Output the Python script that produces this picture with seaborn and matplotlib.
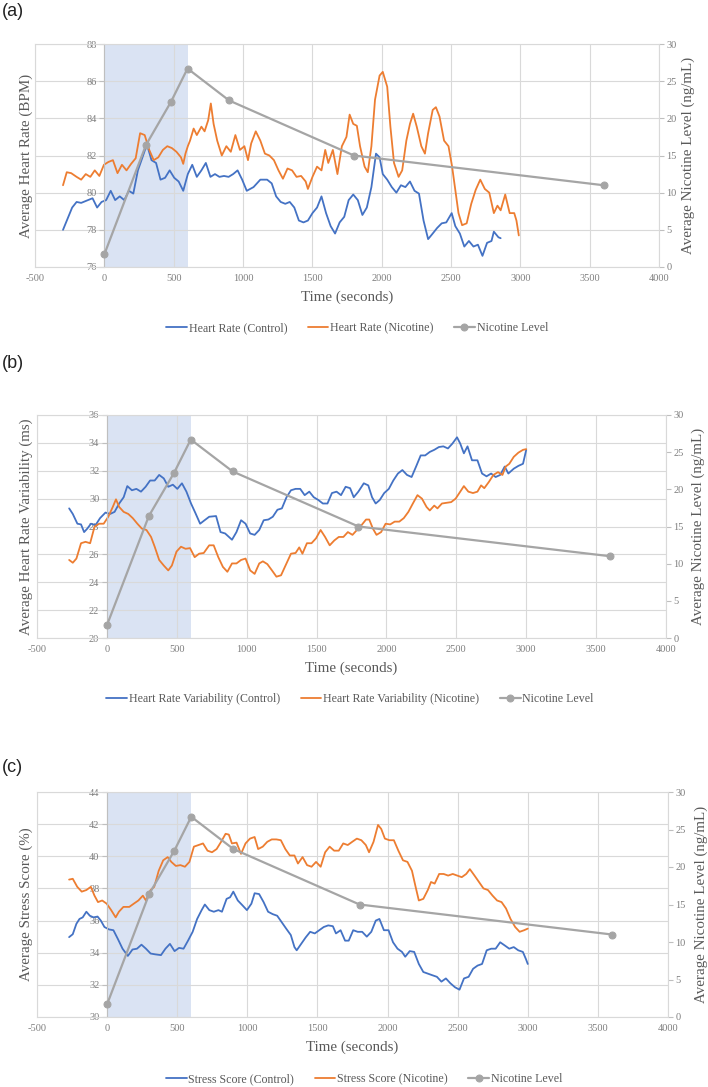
import matplotlib
matplotlib.use('Agg')
from matplotlib import pyplot as plt
import seaborn as sns

# ---- data ----
nic_t = [0, 300, 480, 600, 900, 1800, 3600]
nic_level = [1.7, 16.4, 22.2, 26.7, 22.4, 15.0, 11.0]

hr_ctrl_t = [-298, -265, -232, -200, -167, -118, -85, -52, -20, 13, 46, 78, 111, 144, 177, 209, 242, 275, 307, 340,
             373, 405, 438, 471, 504, 536, 569, 602, 634, 667, 700, 732, 765, 798, 830, 863, 896, 929, 961, 994,
             1027, 1076, 1125, 1174, 1207, 1239, 1272, 1305, 1337, 1370, 1403, 1436, 1468, 1501, 1534, 1566, 1599,
             1632, 1664, 1697, 1730, 1762, 1795, 1828, 1861, 1893, 1926, 1959, 1985, 2008, 2040, 2073, 2106, 2139,
             2171, 2204, 2237, 2269, 2302, 2335, 2368, 2400, 2433, 2466, 2505, 2531, 2564, 2596, 2629, 2662, 2694,
             2727, 2760, 2792, 2809, 2842, 2858]
hr_ctrl = [78.0, 78.6, 79.2, 79.5, 79.45, 79.6, 79.7, 79.2, 79.5, 79.6, 80.1, 79.6, 79.8, 79.6, 80.1, 79.95, 81.2,
           81.9, 82.6, 81.75, 81.6, 80.7, 80.8, 81.2, 80.8, 80.6, 80.1, 81.0, 81.5, 80.85, 81.2, 81.6, 80.85, 81.0,
           80.85, 80.9, 80.85, 81.0, 81.2, 80.7, 80.1, 80.3, 80.7, 80.7, 80.5, 79.8, 79.5, 79.4, 79.5, 79.2, 78.5,
           78.4, 78.5, 78.9, 79.2, 79.8, 78.9, 78.2, 77.8, 78.4, 78.7, 79.6, 79.9, 79.6, 78.8, 79.2, 80.3, 82.1,
           81.9, 81.0, 80.7, 80.3, 80.0, 80.4, 80.3, 80.6, 80.1, 79.95, 78.5, 77.5, 77.8, 78.1, 78.35, 78.4, 78.9,
           78.2, 77.8, 77.1, 77.4, 77.1, 77.2, 76.6, 77.3, 77.4, 77.9, 77.6, 77.55]

hr_nic_t = [-298, -271, -239, -200, -167, -134, -101, -69, -36, -3, 29, 62, 95, 127, 160, 193, 226, 258, 291, 324,
            356, 389, 422, 454, 487, 520, 553, 569, 585, 602, 618, 644, 667, 700, 723, 749, 768, 788, 814, 847,
            880, 912, 945, 978, 1010, 1036, 1059, 1092, 1125, 1158, 1190, 1223, 1256, 1288, 1321, 1354, 1386,
            1419, 1452, 1468, 1501, 1534, 1566, 1593, 1615, 1648, 1681, 1713, 1746, 1769, 1795, 1821, 1844, 1877,
            1900, 1926, 1952, 1985, 2008, 2040, 2063, 2089, 2122, 2148, 2178, 2204, 2227, 2253, 2286, 2312, 2335,
            2368, 2391, 2417, 2450, 2482, 2508, 2531, 2554, 2580, 2613, 2646, 2678, 2711, 2744, 2776, 2809, 2835,
            2858, 2891, 2923, 2956, 2972, 2989]
hr_nic = [80.4, 81.1, 81.05, 80.85, 80.7, 81.0, 80.85, 81.2, 80.9, 81.5, 81.65, 81.75, 81.05, 81.5, 81.2, 81.55,
          81.85, 83.2, 83.1, 82.3, 81.75, 81.9, 82.3, 82.5, 82.4, 82.2, 81.9, 81.55, 82.1, 82.5, 82.8, 83.45,
          83.1, 83.55, 83.3, 83.9, 84.8, 83.7, 82.8, 82.0, 82.5, 82.2, 83.1, 82.3, 82.5, 81.75, 82.65, 83.3,
          82.8, 82.1, 82.0, 81.75, 81.2, 80.75, 81.3, 81.2, 80.85, 80.9, 80.6, 80.2, 80.85, 81.4, 81.2, 82.3,
          81.6, 82.3, 81.0, 82.5, 83.0, 84.2, 83.7, 83.6, 82.5, 81.4, 81.1, 82.5, 85.0, 86.3, 86.5, 85.7, 83.55,
          81.6, 80.85, 81.2, 82.8, 83.7, 84.25, 83.55, 82.5, 82.1, 83.2, 84.45, 84.6, 84.1, 82.8, 82.5, 81.4,
          80.15, 78.9, 78.25, 78.35, 79.4, 80.15, 80.7, 80.2, 80.0, 78.9, 79.3, 79.05, 79.9, 78.9, 78.9, 78.5, 77.7]

hrv_ctrl_t = [-270, -244, -211, -185, -163, -140, -114, -81, -49, -10, 23, 55, 88, 120, 146, 179, 211, 244, 277,
              309, 342, 374, 407, 439, 472, 504, 537, 569, 602, 634, 667, 699, 732, 781, 813, 846, 895, 927, 960,
              992, 1025, 1057, 1090, 1122, 1155, 1187, 1220, 1252, 1285, 1317, 1350, 1383, 1415, 1448, 1480, 1513,
              1545, 1578, 1610, 1643, 1675, 1708, 1740, 1766, 1799, 1838, 1870, 1897, 1923, 1952, 1984, 2017, 2049,
              2082, 2114, 2147, 2180, 2212, 2245, 2277, 2310, 2342, 2375, 2407, 2440, 2472, 2505, 2528, 2554, 2580,
              2612, 2651, 2684, 2716, 2749, 2781, 2814, 2846, 2872, 2911, 2944, 2977, 3000]
hrv_ctrl = [29.3, 28.9, 28.2, 28.15, 27.6, 27.85, 28.2, 28.1, 28.6, 29.0, 28.9, 29.05, 29.65, 30.1, 30.9, 30.6,
            30.7, 30.5, 30.85, 31.3, 31.3, 31.7, 31.45, 30.85, 31.0, 30.7, 31.1, 30.5, 29.65, 28.95, 28.2, 28.45,
            28.7, 28.75, 27.6, 27.5, 27.05, 27.6, 28.45, 28.2, 27.5, 27.4, 27.75, 28.45, 28.5, 28.7, 29.2, 29.3,
            30.1, 30.6, 30.7, 30.7, 30.25, 30.5, 30.1, 29.9, 29.65, 29.65, 30.4, 30.5, 30.25, 30.85, 30.75, 30.1,
            30.5, 31.1, 30.95, 30.1, 29.65, 29.9, 30.4, 30.7, 31.3, 31.8, 32.05, 31.7, 31.55, 32.3, 33.1, 33.1,
            33.35, 33.5, 33.7, 33.75, 33.6, 33.95, 34.4, 33.95, 33.25, 33.75, 32.75, 32.75, 31.8, 31.6, 31.8,
            31.55, 31.7, 32.3, 31.8, 32.15, 32.35, 32.5, 33.5]

hrv_nic_t = [-270, -244, -218, -185, -153, -120, -88, -55, -23, 10, 42, 65, 88, 120, 153, 185, 218, 250, 283, 316,
             342, 374, 407, 439, 465, 498, 530, 563, 595, 628, 660, 693, 732, 764, 797, 830, 862, 895, 927, 960,
             992, 1025, 1057, 1090, 1116, 1148, 1181, 1213, 1246, 1278, 1317, 1350, 1376, 1399, 1431, 1464, 1496,
             1529, 1561, 1594, 1627, 1659, 1692, 1724, 1757, 1789, 1822, 1854, 1877, 1903, 1929, 1962, 1994, 2027,
             2059, 2092, 2124, 2157, 2189, 2222, 2254, 2287, 2310, 2342, 2365, 2397, 2430, 2463, 2495, 2528, 2554,
             2586, 2619, 2651, 2677, 2700, 2733, 2765, 2798, 2830, 2853, 2879, 2911, 2944, 2977, 3000]
hrv_nic = [25.6, 25.4, 25.7, 26.8, 26.9, 26.8, 28.0, 28.2, 28.2, 28.7, 29.4, 29.95, 29.4, 29.05, 28.9, 28.6, 28.2,
           27.85, 27.75, 27.25, 26.55, 25.6, 25.2, 24.85, 25.2, 26.2, 26.55, 26.4, 26.45, 25.8, 26.05, 26.1, 26.65,
           26.65, 25.8, 25.1, 24.75, 25.35, 25.35, 25.6, 25.7, 24.85, 24.6, 25.35, 25.5, 25.3, 24.85, 24.4, 24.5,
           25.2, 26.05, 26.1, 26.5, 26.05, 26.8, 26.8, 27.15, 27.75, 27.25, 26.65, 27.0, 27.25, 27.25, 27.6, 27.4,
           27.75, 28.1, 28.5, 28.5, 27.85, 27.4, 27.6, 28.2, 28.15, 28.35, 28.35, 28.6, 29.05, 29.65, 30.25, 30.0,
           29.4, 29.15, 29.5, 29.3, 29.65, 29.7, 29.75, 30.0, 30.5, 30.9, 30.5, 30.4, 30.5, 30.95, 30.75, 31.2,
           31.7, 31.9, 31.7, 32.3, 32.5, 33.0, 33.3, 33.5, 33.55]

ss_ctrl_t = [-271, -245, -219, -197, -174, -148, -123, -97, -68, -45, -19, 13, 45, 77, 110, 148, 181, 213, 245, 277,
             310, 342, 384, 416, 448, 481, 513, 545, 577, 610, 642, 674, 697, 729, 761, 794, 819, 852, 877, 900,
             932, 965, 997, 1029, 1052, 1084, 1116, 1148, 1181, 1213, 1245, 1277, 1310, 1336, 1352, 1384, 1416,
             1448, 1481, 1513, 1545, 1577, 1610, 1632, 1665, 1697, 1723, 1755, 1787, 1819, 1852, 1884, 1916, 1942,
             1974, 2007, 2039, 2071, 2103, 2126, 2158, 2190, 2223, 2255, 2287, 2319, 2352, 2384, 2416, 2448, 2481,
             2513, 2545, 2578, 2610, 2642, 2674, 2707, 2739, 2771, 2803, 2836, 2868, 2900, 2932, 2965, 2987, 3000]
ss_ctrl = [34.97, 35.15, 35.8, 36.1, 36.2, 36.55, 36.3, 36.2, 36.25, 36.0, 35.6, 35.45, 35.4, 34.85, 34.25, 33.8,
           34.2, 34.25, 34.5, 34.25, 33.95, 33.9, 33.85, 34.25, 34.55, 34.1, 34.3, 34.25, 34.75, 35.3, 36.1, 36.65,
           37.0, 36.65, 36.55, 36.65, 36.55, 37.35, 37.45, 37.8, 37.25, 36.95, 36.65, 37.05, 37.7, 37.65, 37.15,
           36.55, 36.4, 36.3, 35.9, 35.5, 35.1, 34.35, 34.15, 34.55, 34.95, 35.3, 35.2, 35.4, 35.6, 35.7, 35.65,
           35.2, 35.4, 34.75, 34.75, 35.4, 35.3, 35.3, 35.0, 35.3, 36.0, 36.1, 35.4, 35.4, 34.65, 34.25, 34.05,
           33.75, 34.1, 34.05, 33.3, 32.8, 32.7, 32.6, 32.5, 32.2, 32.4, 32.1, 31.85, 31.7, 32.4, 32.5, 33.0, 33.2,
           33.3, 34.15, 34.25, 34.25, 34.65, 34.45, 34.25, 34.35, 34.15, 34.05, 33.6, 33.3]

ss_nic_t = [-271, -245, -213, -181, -148, -116, -90, -65, -35, -3, 29, 61, 84, 116, 158, 190, 223, 255, 277, 310,
            336, 368, 400, 432, 458, 490, 523, 555, 587, 619, 652, 684, 716, 748, 781, 813, 845, 868, 890, 923,
            955, 987, 1019, 1052, 1077, 1110, 1142, 1174, 1207, 1239, 1271, 1303, 1336, 1361, 1394, 1426, 1458,
            1490, 1523, 1555, 1587, 1619, 1652, 1684, 1716, 1748, 1781, 1813, 1845, 1868, 1900, 1932, 1955, 1981,
            2013, 2045, 2077, 2110, 2142, 2174, 2200, 2223, 2255, 2287, 2310, 2336, 2368, 2400, 2432, 2465, 2497,
            2529, 2561, 2587, 2620, 2652, 2684, 2716, 2749, 2781, 2813, 2845, 2877, 2910, 2942, 2974, 3000]
ss_nic = [38.55, 38.6, 38.1, 37.8, 37.9, 38.1, 37.55, 37.15, 37.25, 37.05, 36.65, 36.2, 36.55, 36.85, 36.85, 37.05,
          37.25, 37.55, 37.25, 37.9, 38.1, 39.1, 39.75, 39.95, 39.65, 39.4, 39.45, 39.35, 39.65, 40.6, 40.7, 40.8,
          40.35, 40.25, 40.45, 40.9, 41.4, 41.35, 40.8, 40.85, 40.15, 40.8, 41.1, 41.2, 40.45, 40.6, 40.9, 41.05,
          41.05, 41.0, 40.45, 40.05, 40.05, 39.55, 39.95, 39.45, 39.35, 39.65, 39.35, 40.25, 40.6, 40.35, 40.35,
          40.8, 40.7, 40.9, 41.1, 41.0, 40.7, 40.25, 40.9, 41.95, 41.7, 41.1, 41.0, 41.0, 40.35, 39.75, 39.65,
          39.1, 38.1, 37.25, 37.35, 37.9, 38.4, 38.3, 38.9, 38.9, 38.8, 38.9, 38.8, 38.7, 38.9, 39.2, 38.8, 38.4,
          38.0, 37.9, 37.55, 37.25, 37.15, 36.75, 36.1, 35.6, 35.3, 35.4, 35.5]

BLUE = '#4472C4'
ORANGE = '#ED7D31'
GREY = '#A5A5A5'
SHADE = '#DAE3F3'
GRID = '#D9D9D9'
TXT = '#595959'
TICK = '#7F7F7F'

sns.set_theme(style='white')
plt.rcParams['font.family'] = ['Liberation Serif', 'DejaVu Serif']
plt.rcParams['axes.unicode_minus'] = False

W, H = 708, 1087
fig = plt.figure(figsize=(W / 100, H / 100), dpi=100)


def draw_panel(box, ctrl_t, ctrl, nic_t_s, nic_s, ylim, ylab, names, tag, tag_y, leg_y, leg_x, right_off):
    left, top, right, bottom = box
    ax = fig.add_axes([left / W, 1 - bottom / H, (right - left) / W, (bottom - top) / H])
    ax.axvspan(0, 600, color=SHADE, zorder=0, lw=0)
    sns.lineplot(x=ctrl_t, y=ctrl, ax=ax, color=BLUE, lw=1.3, label=names[0], legend=False)
    sns.lineplot(x=nic_t_s, y=nic_s, ax=ax, color=ORANGE, lw=1.3, label=names[1], legend=False)
    ax.set_xlim(-500, 4000)
    ax.set_ylim(*ylim)
    ax.set_xticks(range(-500, 4001, 500))
    ax.set_yticks(range(ylim[0], ylim[1] + 1, 2))
    ax.set_axisbelow('line')
    ax.grid(True, color=GRID, lw=0.8)
    for s in ['top', 'right', 'bottom']:
        ax.spines[s].set_visible(False)
    ax.spines['left'].set_position(('data', 0))
    ax.spines['left'].set_color('#BFBFBF')
    ax.spines['left'].set_linewidth(0.8)
    ax.tick_params(axis='x', length=0, pad=5, labelsize=7.5, labelcolor=TICK)
    ax.tick_params(axis='y', length=3.5, width=0.8, color='#BFBFBF', pad=2, labelsize=7.5, labelcolor=TICK, left=True)

    ax2 = ax.twinx()
    sns.lineplot(x=nic_t, y=nic_level, ax=ax2, color=GREY, lw=1.6, marker='o', markersize=5,
                 markeredgecolor=GREY, label='Nicotine Level', legend=False)
    ax2.set_ylim(0, 30)
    ax2.set_yticks(range(0, 31, 5))
    ax2.grid(False)
    for s in ax2.spines.values():
        s.set_color(GRID)
        s.set_linewidth(0.8)
    ax2.tick_params(axis='y', length=3.5, width=0.8, color='#BFBFBF', pad=2, labelsize=7.5, labelcolor=TICK, right=True)

    ax.set_xlabel('Time (seconds)', fontsize=10.8, color=TXT)
    ax.xaxis.set_label_coords(0.5, -30 / (bottom - top))
    ax.xaxis.label.set_va('center')
    ax.set_ylabel(ylab, fontsize=10.8, color=TXT)
    ax.yaxis.set_label_coords((26 - left) / (right - left), 0.5)
    ax.yaxis.label.set_va('center')
    ax2.set_ylabel('Average Nicotine Level (ng/mL)', fontsize=10.8, color=TXT)
    ax2.yaxis.set_label_coords(1 + right_off / (right - left), 0.5)
    ax2.yaxis.label.set_va('center')

    h1, l1 = ax.get_legend_handles_labels()
    h2, l2 = ax2.get_legend_handles_labels()
    fig.legend(h1 + h2, l1 + l2, loc='center', bbox_to_anchor=(leg_x / W, 1 - leg_y / H), ncol=3,
               frameon=False, fontsize=8.6, labelcolor=TXT, handlelength=1.75, handletextpad=0.15,
               columnspacing=1.7)
    fig.text(2 / W, 1 - tag_y / H, tag, fontsize=13, va='center', ha='left', color='#222222',
             family=['Liberation Sans', 'DejaVu Sans'])


draw_panel((35, 44, 659, 267), hr_ctrl_t, hr_ctrl, hr_nic_t, hr_nic, (76, 88),
           'Average Heart Rate (BPM)', ['Heart Rate (Control)', 'Heart Rate (Nicotine)'],
           '(a)', 11, 328, 357, 29)
draw_panel((37, 415, 666, 638), hrv_ctrl_t, hrv_ctrl, hrv_nic_t, hrv_nic, (20, 36),
           'Average Heart Rate Variability (ms)',
           ['Heart Rate Variability (Control)', 'Heart Rate Variability (Nicotine)'],
           '(b)', 363, 699, 350, 32)
draw_panel((37, 792, 668, 1017), ss_ctrl_t, ss_ctrl, ss_nic_t, ss_nic, (30, 44),
           'Average Stress Score (%)', ['Stress Score (Control)', 'Stress Score (Nicotine)'],
           '(c)', 767, 1079, 364, 33)

fig.savefig('out.png', dpi=100)
